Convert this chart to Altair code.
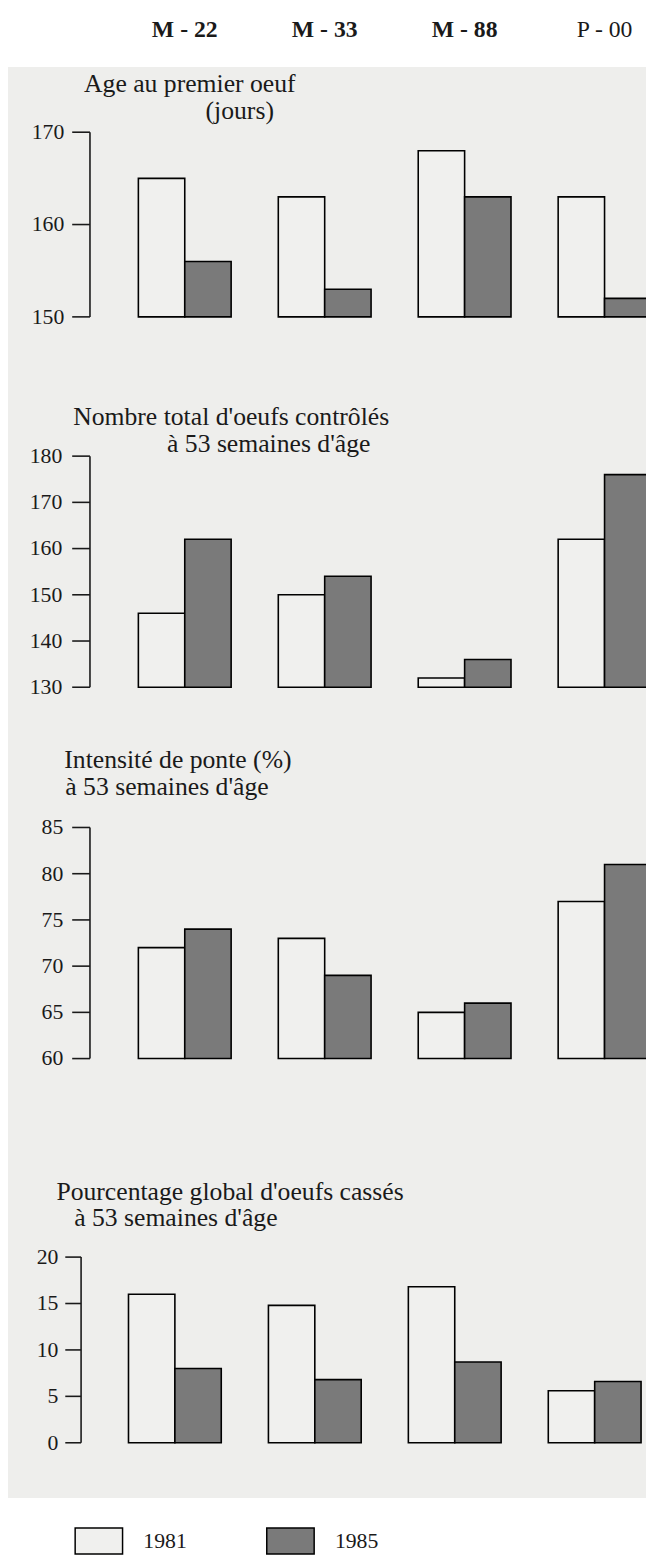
import altair as alt
import pandas as pd

# ---------------- data ----------------
souches = ["M - 22", "M - 33", "M - 88", "P - 00"]
poids_souche = ["bold", "bold", "bold", "normal"]
annees = ["1981", "1985"]

age_1981 = [165, 163, 168, 163]
age_1985 = [156, 153, 163, 152]
oeufs_1981 = [146, 150, 132, 162]
oeufs_1985 = [162, 154, 136, 176]
ponte_1981 = [72, 73, 65, 77]
ponte_1985 = [74, 69, 66, 81]
casses_1981 = [16.0, 14.8, 16.8, 5.6]
casses_1985 = [8.0, 6.8, 8.7, 6.6]

age_ticks = [150, 160, 170]
oeufs_ticks = [130, 140, 150, 160, 170, 180]
ponte_ticks = [60, 65, 70, 75, 80, 85]
casses_ticks = [0, 5, 10, 15, 20]

titre_age = ["Age au premier oeuf", "(jours)"]
titre_oeufs = ["Nombre total d'oeufs contrôlés", "à 53 semaines d'âge"]
titre_ponte = ["Intensité de ponte (%)", "à 53 semaines d'âge"]
titre_casses = ["Pourcentage global d'oeufs cassés", "à 53 semaines d'âge"]

# ---------------- style ----------------
FONT = "Liberation Serif"
INK = "#1a1a1a"
PAPER = "#eeeeec"
LIGHT = "#f0f0ee"
DARK = "#7a7a7a"
W, H = 646, 1556

legend = alt.Legend(
    title=None, orient="none", legendX=67, legendY=1517, direction="horizontal",
    symbolType="M-1,-0.55L1,-0.55L1,0.55L-1,0.55Z", symbolSize=2304,
    symbolStrokeColor="black", symbolStrokeWidth=1.5, symbolOpacity=1,
    labelFont=FONT, labelFontSize=22, labelColor=INK, labelOffset=20,
    columnPadding=78, padding=0, rowPadding=0,
)


def text_line(s, x, y, size=26, align="left"):
    return alt.Chart(pd.DataFrame({"t": [s]})).mark_text(
        font=FONT, fontSize=size, color=INK, align=align, baseline="alphabetic"
    ).encode(x=alt.value(x), y=alt.value(y), text="t:N")


def panel(v81, v85, ticks, yrange, xrange, axis_x, tick_x0, label_x, titles, title_pos, header=False):
    domain = [ticks[0], ticks[-1]]
    df = pd.DataFrame({
        "souche": souches * 2,
        "annee": [annees[0]] * 4 + [annees[1]] * 4,
        "valeur": v81 + v85,
    })
    yscale = alt.Scale(domain=domain, range=yrange, zero=False, nice=False)
    xscale = alt.Scale(domain=souches, range=xrange, paddingInner=0.337, paddingOuter=0)
    bars = alt.Chart(df).mark_bar(clip=True, stroke="black", strokeWidth=1.6, opacity=1).encode(
        x=alt.X("souche:N", scale=xscale, axis=None),
        xOffset=alt.XOffset("annee:N", scale=alt.Scale(domain=annees, paddingInner=0, paddingOuter=0)),
        y=alt.Y("valeur:Q", scale=yscale, axis=None),
        y2=alt.datum(domain[0]),
        color=alt.Color("annee:N", scale=alt.Scale(domain=annees, range=[LIGHT, DARK]), legend=legend),
    )
    tdf = pd.DataFrame({"valeur": ticks, "lab": [str(t) for t in ticks]})
    tick_rules = alt.Chart(tdf).mark_rule(color=INK, strokeWidth=1.6).encode(
        x=alt.value(tick_x0), x2=alt.value(axis_x),
        y=alt.Y("valeur:Q", scale=yscale, axis=None),
    )
    axis_line = alt.Chart(tdf).mark_rule(color=INK, strokeWidth=1.6).encode(
        x=alt.value(axis_x),
        y=alt.Y("min(valeur):Q", scale=yscale, axis=None),
        y2=alt.Y2("max(valeur):Q"),
    )
    tick_labels = alt.Chart(tdf).mark_text(
        font=FONT, fontSize=22, color=INK, align="right", baseline="middle"
    ).encode(
        x=alt.value(label_x),
        y=alt.Y("valeur:Q", scale=yscale, axis=None),
        text="lab:N",
    )
    layers = [bars, tick_rules, axis_line, tick_labels]
    for s, (tx, ty) in zip(titles, title_pos):
        layers.append(text_line(s, tx, ty))
    if header:
        hdf = pd.DataFrame({"souche": souches, "poids": poids_souche})
        for w in ["bold", "normal"]:
            layers.append(
                alt.Chart(hdf).transform_filter(alt.datum.poids == w).mark_text(
                    font=FONT, fontSize=24, fontWeight=w, color=INK, baseline="alphabetic"
                ).encode(
                    x=alt.X("souche:N", scale=xscale, axis=None),
                    y=alt.value(20),
                    text="souche:N",
                )
            )
    return alt.layer(*layers)


background = alt.Chart(pd.DataFrame({"a": [0]})).mark_rect(color=PAPER).encode(
    x=alt.value(0), x2=alt.value(W), y=alt.value(50), y2=alt.value(1499)
)

p1 = panel(age_1981, age_1985, age_ticks, [303, 116], [132, 651], 83, 65, 57,
           titre_age, [(77, 75), (200, 103)], header=True)
p2 = panel(oeufs_1981, oeufs_1985, oeufs_ticks, [678, 444], [132, 651], 83, 65, 55,
           titre_oeufs, [(66, 412), (161, 440)])
p3 = panel(ponte_1981, ponte_1985, ponte_ticks, [1054, 820], [132, 651], 83, 65, 56,
           titre_ponte, [(57, 760), (58, 787)])
p4 = panel(casses_1981, casses_1985, casses_ticks, [1443, 1255], [122, 641], 74, 58, 51,
           titre_casses, [(49, 1197), (67, 1224)])

chart = alt.layer(background, p1, p2, p3, p4).resolve_scale(
    x="independent", y="independent", xOffset="independent"
).properties(
    width=W, height=H, padding=0, background="white",
    autosize=alt.AutoSizeParams(type="none"),
).configure_view(strokeWidth=0)

chart.save("out.html", embed_options={"renderer": "svg", "actions": False})
